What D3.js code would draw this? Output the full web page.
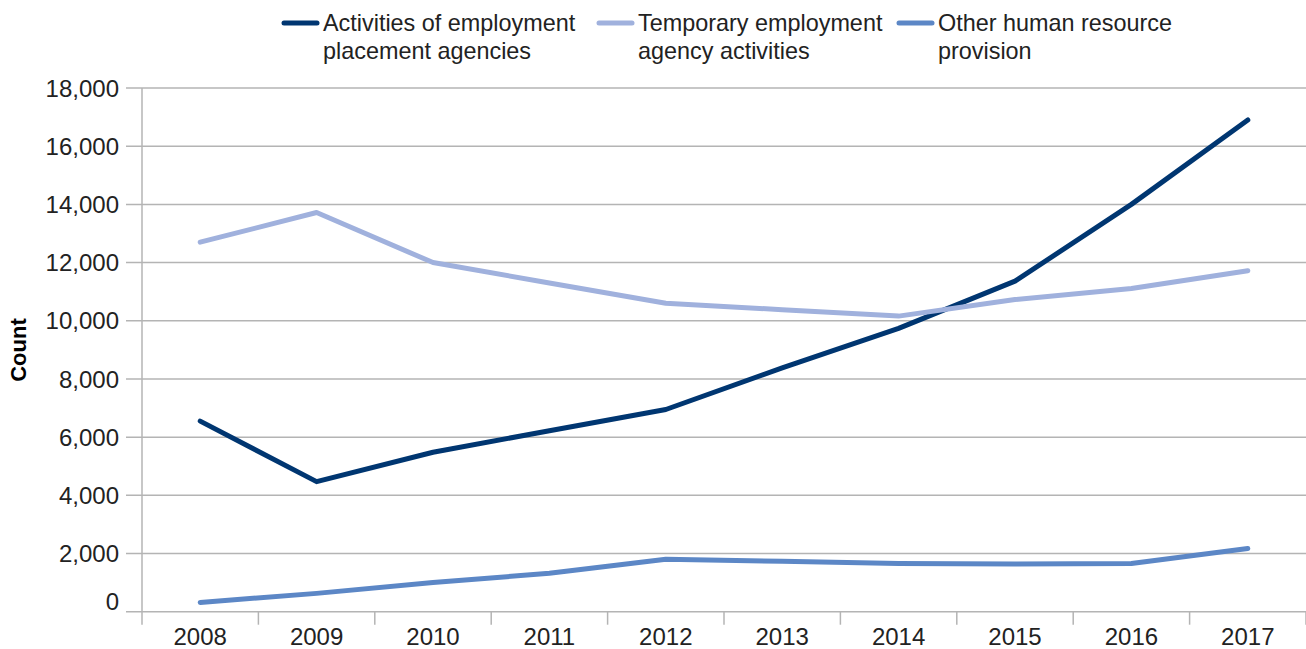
<!DOCTYPE html>
<html>
<head>
<meta charset="utf-8">
<script src="https://cdn.jsdelivr.net/npm/d3@7"></script>
<style>
  html, body { margin: 0; padding: 0; background: #fff; }
  svg { display: block; font-family: "Liberation Sans", Arial, sans-serif; }
</style>
</head>
<body>
<svg id="chart" width="1306" height="649"></svg>
<script>
// Business counts by activity, 2008–2017
const years = ["2008", "2009", "2010", "2011", "2012", "2013", "2014", "2015", "2016", "2017"];
const placementAgencies = [6550, 4470, 5480, 6220, 6950, 8380, 9740, 11360, 14000, 16900];
const temporaryAgencies = [12700, 13720, 12000, 11300, 10600, 10380, 10160, 10730, 11110, 11720];
const otherHrProvision = [320, 630, 1000, 1320, 1800, 1730, 1660, 1640, 1660, 2170];
const yTicks = [0, 2000, 4000, 6000, 8000, 10000, 12000, 14000, 16000, 18000];

const seriesNames = [
  ["Activities of employment", "placement agencies"],
  ["Temporary employment", "agency activities"],
  ["Other human resource", "provision"]
];
const seriesColors = ["#003671", "#a0b1dd", "#5c87c6"];
const seriesValues = [placementAgencies, temporaryAgencies, otherHrProvision];

const svg = d3.select("#chart");
const plotLeft = 142, plotRight = 1306, plotTop = 88, plotBottom = 611.7;

const x = d3.scaleBand().domain(years).range([plotLeft, plotRight]);
const y = d3.scaleLinear().domain([0, 18000]).range([plotBottom, plotTop]);

// horizontal gridlines
svg.append("g")
  .selectAll("line")
  .data(yTicks)
  .join("line")
  .attr("x1", plotLeft - 16).attr("x2", plotRight)
  .attr("y1", d => y(d)).attr("y2", d => y(d))
  .attr("stroke", "#b4b4b4").attr("stroke-width", 1.5);

// y axis line
svg.append("line")
  .attr("x1", plotLeft).attr("x2", plotLeft)
  .attr("y1", plotTop).attr("y2", plotBottom + 13)
  .attr("stroke", "#b4b4b4").attr("stroke-width", 1.5);

// category boundary ticks below the axis
const bounds = years.slice(1).map(d => x(d)).concat([plotRight]);
svg.append("g")
  .selectAll("line")
  .data(bounds)
  .join("line")
  .attr("x1", d => d).attr("x2", d => d)
  .attr("y1", plotBottom).attr("y2", plotBottom + 13)
  .attr("stroke", "#b4b4b4").attr("stroke-width", 1.5);

// y tick labels
svg.append("g")
  .selectAll("text")
  .data(yTicks)
  .join("text")
  .attr("x", 119)
  .attr("y", d => y(d) + (d === 0 ? -10 : 0))
  .attr("dy", "0.36em")
  .attr("text-anchor", "end")
  .attr("font-size", 24)
  .attr("fill", "#222")
  .text(d => d3.format(",")(d));

// x tick labels
svg.append("g")
  .selectAll("text")
  .data(years)
  .join("text")
  .attr("x", d => x(d) + x.bandwidth() / 2)
  .attr("y", 645)
  .attr("text-anchor", "middle")
  .attr("font-size", 24)
  .attr("fill", "#222")
  .text(d => d);

// y axis title
svg.append("text")
  .attr("transform", "translate(26,350) rotate(-90)")
  .attr("text-anchor", "middle")
  .attr("font-size", 22)
  .attr("font-weight", "bold")
  .attr("fill", "#000")
  .text("Count");

// series lines
const line = d3.line()
  .x((d, i) => x(years[i]) + x.bandwidth() / 2)
  .y(d => y(d));

svg.append("g")
  .selectAll("path")
  .data(seriesValues)
  .join("path")
  .attr("d", d => line(d))
  .attr("fill", "none")
  .attr("stroke", (d, i) => seriesColors[i])
  .attr("stroke-width", 5)
  .attr("stroke-linejoin", "round")
  .attr("stroke-linecap", "round");

// legend
const legendX = [282, 597, 897];
const legend = svg.append("g")
  .selectAll("g")
  .data(seriesNames)
  .join("g")
  .attr("transform", (d, i) => `translate(${legendX[i]},0)`);

legend.append("line")
  .attr("x1", 2).attr("x2", 35)
  .attr("y1", 23).attr("y2", 23)
  .attr("stroke", (d, i) => seriesColors[i])
  .attr("stroke-width", 5)
  .attr("stroke-linecap", "round");

legend.append("text")
  .attr("x", 41)
  .attr("y", 31)
  .attr("font-size", 23.4)
  .attr("fill", "#222")
  .selectAll("tspan")
  .data(d => d)
  .join("tspan")
  .attr("x", 41)
  .attr("dy", (d, i) => i === 0 ? 0 : 28)
  .text(d => d);
</script>
</body>
</html>
